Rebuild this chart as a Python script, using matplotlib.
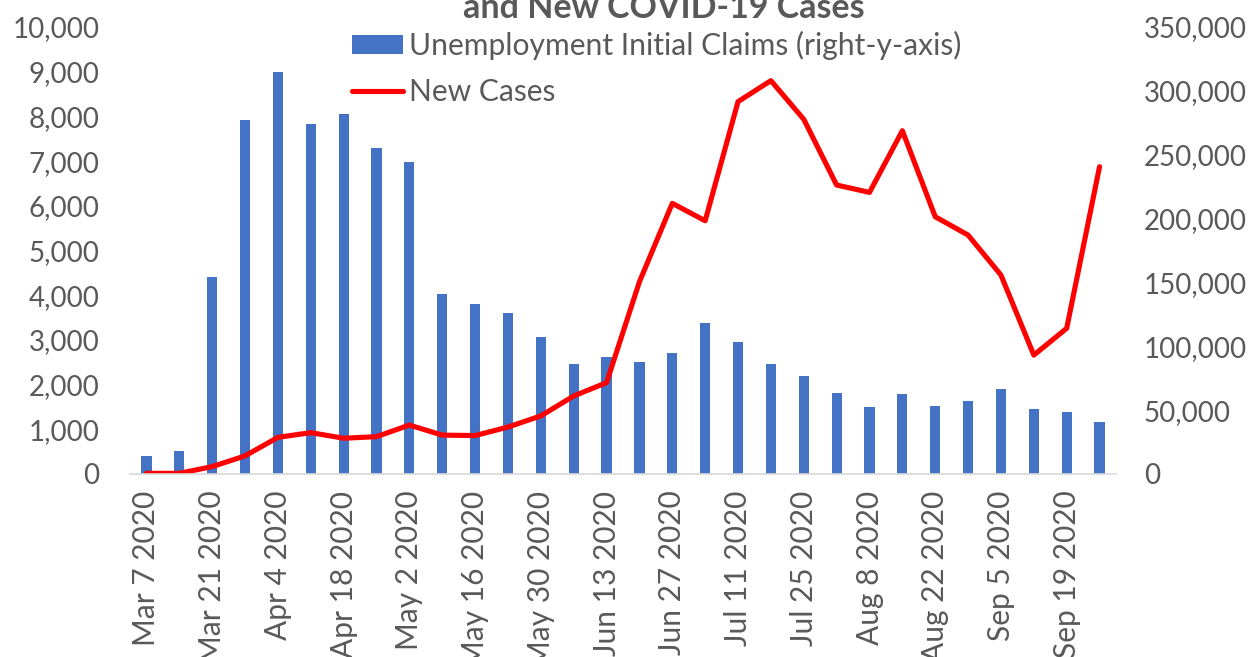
import numpy as np
import matplotlib.pyplot as plt
from matplotlib.ticker import MultipleLocator, FuncFormatter

plt.rcParams['font.family'] = ['Lato', 'DejaVu Sans']

weeks = ['Mar 7 2020', 'Mar 14 2020', 'Mar 21 2020', 'Mar 28 2020', 'Apr 4 2020',
         'Apr 11 2020', 'Apr 18 2020', 'Apr 25 2020', 'May 2 2020', 'May 9 2020',
         'May 16 2020', 'May 23 2020', 'May 30 2020', 'Jun 6 2020', 'Jun 13 2020',
         'Jun 20 2020', 'Jun 27 2020', 'Jul 4 2020', 'Jul 11 2020', 'Jul 18 2020',
         'Jul 25 2020', 'Aug 1 2020', 'Aug 8 2020', 'Aug 15 2020', 'Aug 22 2020',
         'Aug 29 2020', 'Sep 5 2020', 'Sep 12 2020', 'Sep 19 2020', 'Sep 26 2020']

# unemployment initial claims (right axis)
claims = [14000, 18000, 154000, 277000, 315000, 274000, 282000, 255000, 244000, 141000,
          133000, 126000, 107000, 86500, 92000, 88000, 94500, 118000, 103000, 86500,
          76500, 63700, 52600, 62600, 53200, 57300, 66200, 51000, 48900, 41000]

# new cases (left axis)
new_cases = [15, 15, 165, 405, 820, 925, 800, 835, 1095, 870,
             860, 1050, 1300, 1745, 2045, 4300, 6055, 5665, 8330, 8800,
             7935, 6465, 6300, 7680, 5755, 5345, 4450, 2660, 3260, 6875]

grey = '#595959'
W, H = 1252, 657

fig = plt.figure(figsize=(W / 100, H / 100), dpi=100)
ax = fig.add_axes([130 / W, 1 - 474 / H, (1116 - 130) / W, (474 - 27) / H])
ax2 = ax.twinx()

x = np.arange(len(weeks))
bars = ax2.bar(x, claims, width=0.31, color='#4472C4')
line, = ax.plot(x, new_cases, color='#FF0000', lw=3.7,
                solid_joinstyle='round', solid_capstyle='round')

# line on top of the bars
ax.set_zorder(ax2.get_zorder() + 1)
ax.patch.set_visible(False)

ax.set_xlim(-0.5, len(weeks) - 0.5)
ax.set_ylim(0, 10000)
ax2.set_ylim(0, 350000)

ax.yaxis.set_major_locator(MultipleLocator(1000))
ax2.yaxis.set_major_locator(MultipleLocator(50000))
fmt = FuncFormatter(lambda v, p: f'{v:,.0f}')
ax.yaxis.set_major_formatter(fmt)
ax2.yaxis.set_major_formatter(fmt)

ax.set_xticks(x[::2])
ax.set_xticklabels(weeks[::2], rotation=90)

ax.tick_params(axis='x', length=0, pad=12, labelsize=21.5, labelcolor=grey)
ax.tick_params(axis='y', length=0, pad=22, labelsize=20, labelcolor=grey)
ax2.tick_params(axis='y', length=0, pad=20, labelsize=20, labelcolor=grey)

for s in ['top', 'left', 'right']:
    ax.spines[s].set_visible(False)
for s in ax2.spines.values():
    s.set_visible(False)
ax.spines['bottom'].set_color('#D9D9D9')
ax.spines['bottom'].set_linewidth(1.2)

fig.text(664 / W, 1 - 18 / H, 'and New COVID-19 Cases', ha='center', va='baseline',
         fontsize=24.5, fontweight='bold', color=grey)

fig.legend([bars, line], ['Unemployment Initial Claims (right-y-axis)', 'New Cases'],
           loc='upper left', bbox_to_anchor=(352 / W, 1 - 31 / H), frameon=False,
           fontsize=21.6, labelcolor=grey, borderpad=0, borderaxespad=0,
           handlelength=1.7, handleheight=0.6, handletextpad=0.2, labelspacing=0.6)

fig.savefig('out.png', dpi=100, facecolor='white')
